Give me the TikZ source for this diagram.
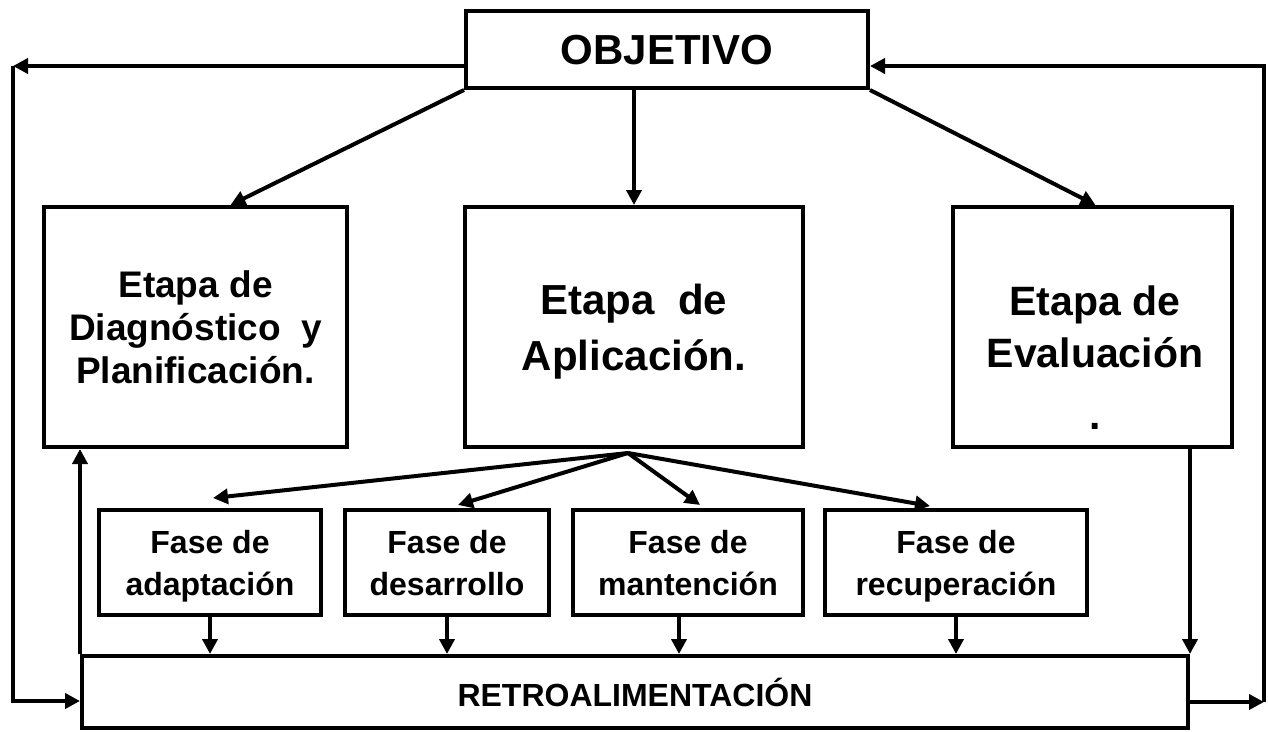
\documentclass[tikz,border=0pt]{standalone}
\usepackage{fontspec}
\setmainfont{Liberation Sans}
\usetikzlibrary{arrows.meta}

\begin{document}
\begin{tikzpicture}[x=1pt, y=-1pt, line width=4pt, >={Triangle[length=15pt, width=15pt]}]
    \tikzstyle{box}=[draw, line width=4pt, inner sep=0pt, align=center, text depth=0pt, font=\bfseries]
    \tikzstyle{etapa}=[box, minimum height=240pt]
    \tikzstyle{fase}=[box, minimum height=105pt, font={\fontsize{32}{42}\selectfont\bfseries}]

    \useasboundingbox (0, 0) rectangle (1268, 731);

    % Objective
    \node[box, minimum width=402pt, minimum height=77pt, font={\fontsize{42}{50}\selectfont\bfseries}] (obj) at (667, 49.5) {OBJETIVO};

    % Stages
    \node[etapa, minimum width=303pt, font={\fontsize{37}{43}\selectfont\bfseries}] (diag) at (195.5, 327) {Etapa de\\Diagnóstico~ y\\Planificación.};
    \node[etapa, minimum width=338pt, font={\fontsize{42}{56}\selectfont\bfseries}] (apl) at (634, 327) {Etapa~ de\\Aplicación.};
    \node[etapa, minimum width=279pt] (eval) at (1092.5, 327) {};
    \node[align=center, font={\fontsize{41}{52}\selectfont\bfseries}] (evaltxt) at (1095, 358) {Etapa de\\Evaluación\\[10pt].};

    % Phases
    \node[fase, minimum width=222pt] (adap) at (210, 562.5) {Fase de\\adaptación};
    \node[fase, minimum width=204pt] (desa) at (447, 562.5) {Fase de\\desarrollo};
    \node[fase, minimum width=230pt] (mant) at (688, 562.5) {Fase de\\mantención};
    \node[fase, minimum width=262pt] (recu) at (956, 562.5) {Fase de\\recuperación};

    % Feedback
    \node[box, minimum width=1106pt, minimum height=72pt, font={\fontsize{32}{36}\selectfont\bfseries}] (retro) at (635, 692) {RETROALIMENTACIÓN};

    % Loop corners
    \coordinate (tl) at (13, 66);
    \coordinate (bl) at (13, 701);
    \coordinate (br) at (1264, 702);
    \coordinate (tr) at (1264, 66);
    \coordinate (hub) at ([xshift=-6pt, yshift=-4pt]apl.south);

    % Connections
    \draw[->] (obj.south west) to ([xshift=35pt]diag.north);
    \draw[->] (obj.south -| apl.north) to (apl.north);
    \draw[->] (obj.south east) to ([xshift=3pt]eval.north);

    \draw[->] (hub) to ([xshift=3pt, yshift=10pt]adap.north);
    \draw[->] (hub) to ([xshift=11pt, yshift=3pt]desa.north);
    \draw[->] (hub) to ([xshift=12pt, yshift=3pt]mant.north);
    \draw[->] (hub) to ([xshift=-26pt, yshift=2pt]recu.north);

    \draw[->] (adap.south) to (adap.south |- retro.north);
    \draw[->] (desa.south) to (desa.south |- retro.north);
    \draw[->] ([xshift=-9pt]mant.south) to ([xshift=-9pt]mant.south |- retro.north);
    \draw[->] (recu.south) to (recu.south |- retro.north);

    \draw[->] (eval.south -| retro.east) to (retro.north east);
    \draw[->] (retro.north west) to (retro.north west |- diag.south);

    % Feedback loops
    \draw[->] (obj.west |- tl) to (tl);
    \draw[->] (tl) -- (bl) -- (bl -| retro.west);
    \draw[->] (retro.east |- br) to (br);
    \draw[->] (br) -- (tr) -- (tr -| obj.east);
\end{tikzpicture}
\end{document}
